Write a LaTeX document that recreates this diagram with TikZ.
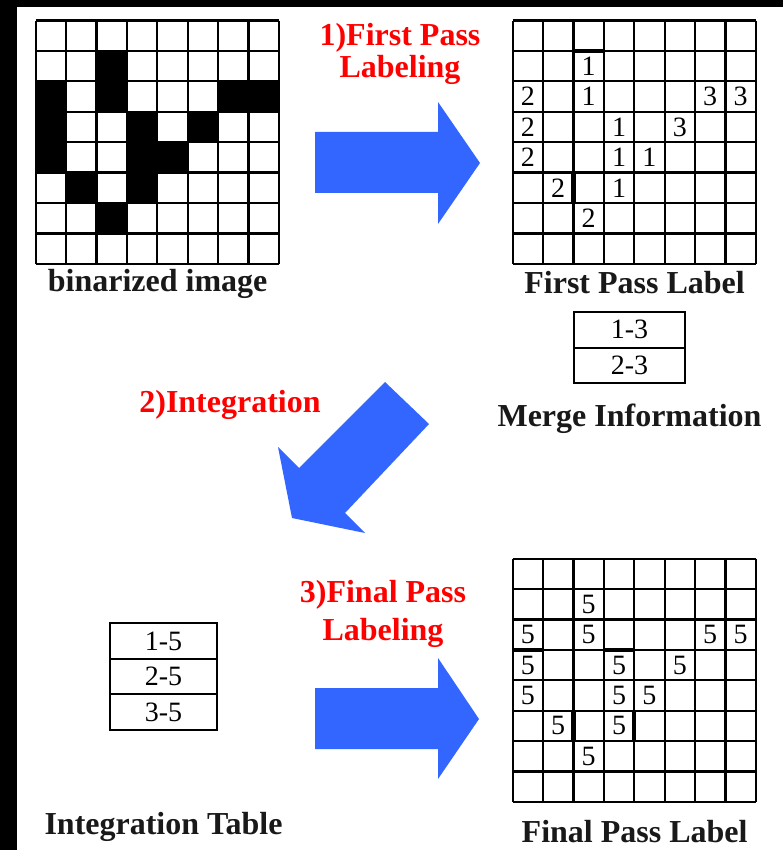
\documentclass[tikz,border=0pt]{standalone}
\usepackage{fontspec}
\setmainfont{Liberation Serif}
\usetikzlibrary{positioning}

\definecolor{passblue}{RGB}{51,102,255}
\definecolor{passred}{RGB}{255,0,0}
\newcommand{\cellsize}{30.4}

\begin{document}
\begin{tikzpicture}[
  x=0.5pt, y=-0.5pt,
  every node/.style={inner sep=0pt},
  gridbox/.style={minimum width=121.6pt, minimum height=121.6pt},
  gridline/.style={line width=1.1pt},
  pixel/.style={fill=black},
  digit/.style={font=\fontsize{14}{14}\selectfont},
  seam/.style={line width=2.2pt},
  caption/.style={font=\fontsize{16}{19}\selectfont\bfseries, text=black!90},
  stepname/.style={font=\fontsize{16}{16}\selectfont\bfseries, text=passred,
                   align=center},
  tablecell/.style={draw, line width=1pt, outer sep=0pt, minimum width=54.5pt,
                    minimum height=17.8pt, font=\fontsize{14}{14}\selectfont},
  bigarrow/.style={fill=passblue}
]
  % page and the black frame edges
  \useasboundingbox (0,0) rectangle (783,850);
  \fill[white] (0,0) rectangle (783,850);
  \fill[black] (0,0) rectangle (17,850);
  \fill[black] (0,0) rectangle (783,7);

  % The three 8x8 grids
  \node[gridbox] (bin)   at (157.6,142.6) {};
  \node[gridbox] (fp)    at (634.6,142.6) {};
  \node[gridbox] (final) at (634.6,680.6) {};

  % binarized pixels (row/col)
  \begin{scope}[shift={(bin.north west)}]
    \foreach \r/\c in {1/2, 2/0, 2/2, 2/6, 2/7, 3/0, 3/3, 3/5,
                       4/0, 4/3, 4/4, 5/1, 5/3, 6/2}
      \fill[pixel] (\c*\cellsize,\r*\cellsize) rectangle ++(\cellsize,\cellsize);
  \end{scope}

  \foreach \g in {bin, fp, final} {
    \begin{scope}[shift={(\g.north west)}]
      \foreach \i in {0,...,8} {
        \draw[gridline] (\i*\cellsize,0) -- (\i*\cellsize,8*\cellsize);
        \draw[gridline] (0,\i*\cellsize) -- (8*\cellsize,\i*\cellsize);
      }
    \end{scope}
  }

  % first pass labels (row/col/label)
  \begin{scope}[shift={(fp.north west)}]
    \foreach \r/\c/\l in {1/2/1, 2/0/2, 2/2/1, 2/6/3, 2/7/3, 3/0/2, 3/3/1,
                          3/5/3, 4/0/2, 4/3/1, 4/4/1, 5/1/2, 5/3/1, 6/2/2}
      \node[digit] (fp-\r-\c) at ({(\c+0.5)*\cellsize},{(\r+0.5)*\cellsize}) {\l};
    \draw[seam] (2*\cellsize,1*\cellsize) -- (3*\cellsize,1*\cellsize);
    \draw[seam] (2*\cellsize,5*\cellsize) -- (2*\cellsize,6*\cellsize);
  \end{scope}

  % final pass labels
  \begin{scope}[shift={(final.north west)}]
    \foreach \r/\c in {1/2, 2/0, 2/2, 2/6, 2/7, 3/0, 3/3, 3/5,
                       4/0, 4/3, 4/4, 5/1, 5/3, 6/2}
      \node[digit] (fin-\r-\c) at ({(\c+0.5)*\cellsize},{(\r+0.5)*\cellsize}) {5};
    \draw[seam] (0,3*\cellsize) -- (1*\cellsize,3*\cellsize);
    \draw[seam] (3*\cellsize,3*\cellsize) -- (4*\cellsize,3*\cellsize);
    \draw[seam] (2*\cellsize,5*\cellsize) -- (2*\cellsize,6*\cellsize);
    \draw[seam] (4*\cellsize,5*\cellsize) -- (4*\cellsize,6*\cellsize);
  \end{scope}

  % captions
  \node[caption, below=2pt of bin]   (bincap)   {binarized image};
  \node[caption, below=3pt of fp]    (fpcap)    {First Pass Label};
  \node[caption, below=8.5pt of final] (finalcap) {Final Pass Label};

  % merge information
  \node[tablecell, minimum width=55.5pt] (m1) at (629.5,329.8) {1-3};
  \node[tablecell, minimum width=55.5pt, below=0pt of m1] (m2) {2-3};
  \node[caption, below=10pt of m2] (mergecap) {Merge Information};

  % integration table
  \node[tablecell, minimum width=53.5pt] (i1) at (163.5,641) {1-5};
  \node[tablecell, minimum width=53.5pt, below=0pt of i1] (i2) {2-5};
  \node[tablecell, minimum width=53.5pt, below=0pt of i2] (i3) {3-5};
  \node[caption, below=41pt of i3] (intcap) {Integration Table};

  % steps
  \node[stepname, anchor=north] (step1) at (400,23) {1)First Pass\\Labeling};
  \node[stepname, anchor=base] (step2) at (230,412) {2)Integration};
  \node[stepname, anchor=north, font=\fontsize{16}{19}\selectfont\bfseries]
    (step3) at (383,580) {3)Final Pass\\Labeling};

  % block arrows
  \fill[bigarrow] (315,132) -- (438,132) -- (438,102) -- (480,163)
    -- (438,224) -- (438,193) -- (315,193) -- cycle;
  \fill[bigarrow] (385,382) -- (429,424) -- (345,513) -- (365,533)
    -- (292,518) -- (278,447) -- (299,468) -- cycle;
  \fill[bigarrow] (315,688) -- (438,688) -- (438,658) -- (479,719)
    -- (438,779) -- (438,749) -- (315,749) -- cycle;
\end{tikzpicture}
\end{document}
